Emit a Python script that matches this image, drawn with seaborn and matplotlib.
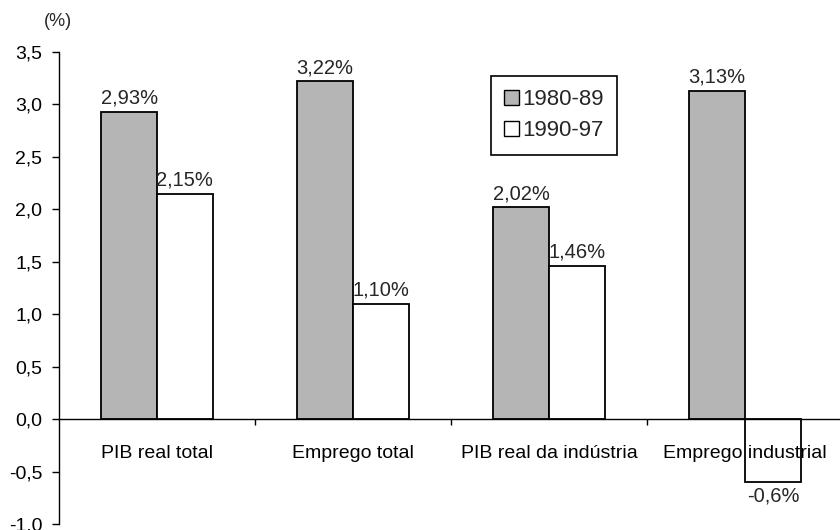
import matplotlib
matplotlib.use("Agg")
import matplotlib.pyplot as plt
import seaborn as sns
import pandas as pd
from matplotlib.patches import Patch

categories = ["PIB real total", "Emprego total", "PIB real da indústria", "Emprego industrial"]
periods = ["1980-89", "1990-97"]
values_1980_89 = [2.93, 3.22, 2.02, 3.13]
values_1990_97 = [2.15, 1.10, 1.46, -0.6]
labels_1980_89 = ["2,93%", "3,22%", "2,02%", "3,13%"]
labels_1990_97 = ["2,15%", "1,10%", "1,46%", "-0,6%"]
yticks = [-1.0, -0.5, 0.0, 0.5, 1.0, 1.5, 2.0, 2.5, 3.0, 3.5]
ytick_labels = ["-1,0", "-0,5", "0,0", "0,5", "1,0", "1,5", "2,0", "2,5", "3,0", "3,5"]
y_unit = "(%)"

sns.set_style("white")
plt.rcParams["font.family"] = ["Liberation Sans", "DejaVu Sans"]

df = pd.DataFrame({
    "categoria": categories * 2,
    "periodo": [periods[0]] * 4 + [periods[1]] * 4,
    "valor": values_1980_89 + values_1990_97,
})

colors = {periods[0]: "#b5b5b5", periods[1]: "white"}

fig = plt.figure(figsize=(8.4, 5.3), dpi=100)
ax = fig.add_axes([59 / 840, 6 / 530, 784 / 840, 472 / 530])

sns.barplot(data=df, x="categoria", y="valor", hue="periodo", order=categories,
            hue_order=periods, palette=colors, edgecolor="black", linewidth=1.3,
            width=0.57, errorbar=None, legend=False, ax=ax)

for cont, labs in zip(ax.containers, [labels_1980_89, labels_1990_97]):
    ax.bar_label(cont, labels=labs, padding=3, fontsize=14.5)

ax.set_axisbelow(False)
ax.set_xlim(-0.5, 3.5)
ax.set_ylim(-1.0, 3.5)
ax.set_xlabel("")
ax.set_ylabel("")

for s in ["top", "right"]:
    ax.spines[s].set_visible(False)
ax.spines["bottom"].set_position(("data", 0))
for s in ["left", "bottom"]:
    ax.spines[s].set_color("black")
    ax.spines[s].set_linewidth(1.0)

ax.set_yticks(yticks)
ax.set_yticklabels(ytick_labels)
ax.tick_params(axis="y", direction="out", length=5, width=1, pad=7, labelsize=14, colors="black", left=True)
ax.set_xticks(range(len(categories)))
ax.set_xticklabels(categories)
ax.tick_params(axis="x", which="major", length=0, pad=19, labelsize=14, colors="black")
ax.set_xticks([0.5, 1.5, 2.5], minor=True)
ax.tick_params(axis="x", which="minor", direction="out", length=4.5, width=1, bottom=True, colors="black")

handles = [Patch(facecolor=colors[p], edgecolor="black", linewidth=1.0, label=p) for p in periods]
leg = ax.legend(handles=handles, loc="upper left", bbox_to_anchor=(0.551, 0.949),
                borderaxespad=0, fontsize=16, frameon=True, fancybox=False,
                edgecolor="black", framealpha=1, handlelength=0.65, handleheight=0.65,
                handletextpad=0.15, borderpad=0.6, labelspacing=0.45)
leg.get_frame().set_linewidth(1.2)

fig.text(58 / 840, 1 - 22 / 530, y_unit, ha="center", va="center", fontsize=13)

fig.savefig("out.png", dpi=100, facecolor="white")
